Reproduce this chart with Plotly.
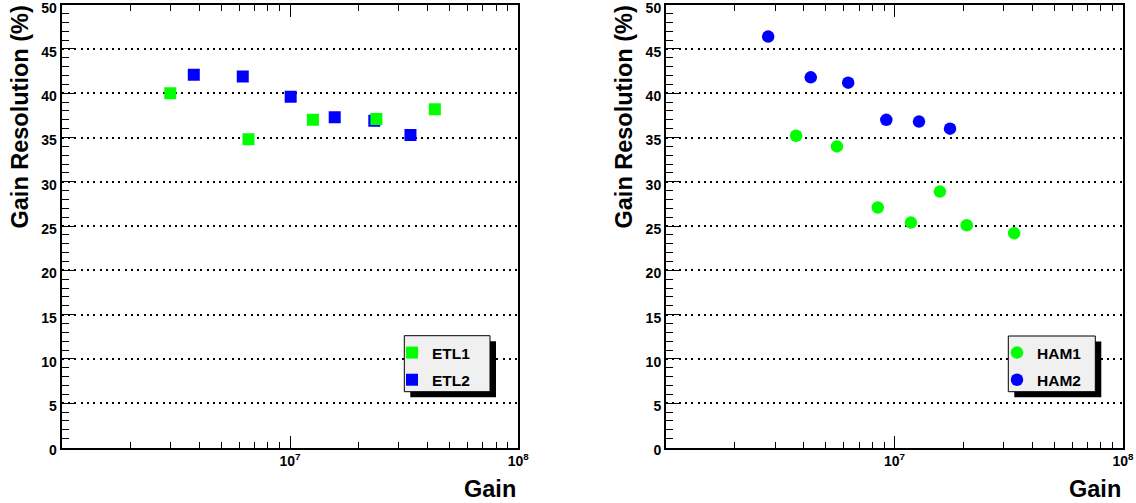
import plotly.graph_objects as go

# ---- data ----
etl1_gain = [2.99e6, 6.58e6, 1.26e7, 2.39e7, 4.31e7]
etl1_res = [40.0, 34.8, 37.0, 37.1, 38.2]
etl2_gain = [3.79e6, 6.21e6, 1.007e7, 1.57e7, 2.34e7, 3.37e7]
etl2_res = [42.1, 41.9, 39.6, 37.3, 36.9, 35.3]
ham1_gain = [3.71e6, 5.60e6, 8.45e6, 1.18e7, 1.58e7, 2.07e7, 3.34e7]
ham1_res = [35.2, 34.0, 27.1, 25.4, 28.9, 25.1, 24.2]
ham2_gain = [2.80e6, 4.30e6, 6.27e6, 9.21e6, 1.28e7, 1.75e7]
ham2_res = [46.4, 41.8, 41.2, 37.0, 36.8, 36.0]

x_tickvals = [1e6, 1e7, 1e8]
x_ticktext = ["", "10<sup>7</sup>", "10<sup>8</sup>"]
x_minor = [k * 10 ** e for e in (6, 7) for k in range(2, 10)]
y_tickvals = list(range(0, 51, 5))

W, H = 1136, 503
GREEN = "#00ff00"
BLUE = "#0000ff"
FONT = "Liberation Sans"


def px(x):
    return x / W


def py(y):
    return 1 - y / H


fig = go.Figure()

fig.add_trace(go.Scatter(x=etl2_gain, y=etl2_res, mode="markers", name="ETL2",
                         marker=dict(symbol="square", size=12, color=BLUE, line=dict(width=0)),
                         xaxis="x", yaxis="y", legend="legend", legendrank=2, legendgroup="b"))
fig.add_trace(go.Scatter(x=etl1_gain, y=etl1_res, mode="markers", name="ETL1",
                         marker=dict(symbol="square", size=12, color=GREEN, line=dict(width=0)),
                         xaxis="x", yaxis="y", legend="legend", legendrank=1, legendgroup="a"))
fig.add_trace(go.Scatter(x=ham1_gain, y=ham1_res, mode="markers", name="HAM1",
                         marker=dict(symbol="circle", size=12.5, color=GREEN, line=dict(width=0)),
                         xaxis="x2", yaxis="y2", legend="legend2", legendrank=1, legendgroup="c"))
fig.add_trace(go.Scatter(x=ham2_gain, y=ham2_res, mode="markers", name="HAM2",
                         marker=dict(symbol="circle", size=12.5, color=BLUE, line=dict(width=0)),
                         xaxis="x2", yaxis="y2", legend="legend2", legendrank=2, legendgroup="d"))

ydom = [py(447.5), py(4.7)]
xdom1 = [px(61.7), px(518.3)]
xdom2 = [px(666), px(1123)]

xaxis_common = dict(
    type="log", range=[6, 8], tickmode="array", tickvals=x_tickvals, ticktext=x_ticktext,
    ticks="inside", ticklen=12, tickwidth=1.2, tickcolor="black",
    minor=dict(tickvals=x_minor, ticks="inside", ticklen=6, tickwidth=1.2, tickcolor="black", showgrid=False),
    showline=True, linecolor="black", linewidth=2, mirror="allticks",
    showgrid=False, zeroline=False, automargin=False, ticklabeloverflow="allow",
    tickfont=dict(family=FONT, size=14, color="black", weight="bold"),
)
yaxis_common = dict(
    range=[0, 50], tickmode="array", tickvals=y_tickvals,
    ticks="inside", ticklen=14, tickwidth=1.2, tickcolor="black",
    minor=dict(dtick=1, tick0=0, ticks="inside", ticklen=7, tickwidth=1.2, tickcolor="black", showgrid=False),
    showline=True, linecolor="black", linewidth=2, mirror=True,
    showgrid=True, gridcolor="black", gridwidth=1.5, griddash="2px,4.3px",
    zeroline=False, automargin=False, ticklabeloverflow="allow", ticklabelshift=3,
    tickfont=dict(family=FONT, size=14, color="black", weight="bold"),
)

fig.update_layout(
    width=W, height=H,
    margin=dict(l=0, r=0, t=0, b=0),
    paper_bgcolor="white", plot_bgcolor="white",
    xaxis=dict(domain=xdom1, anchor="y", **xaxis_common),
    yaxis=dict(domain=ydom, anchor="x", **yaxis_common),
    xaxis2=dict(domain=xdom2, anchor="y2", **xaxis_common),
    yaxis2=dict(domain=ydom, anchor="x2", **yaxis_common),
    legend=dict(x=px(392), y=py(336), xanchor="left", yanchor="top",
                bgcolor="rgba(0,0,0,0)", borderwidth=0, tracegroupgap=4,
                font=dict(family=FONT, size=15.5, color="black", weight="bold")),
    legend2=dict(x=px(997), y=py(336), xanchor="left", yanchor="top",
                 bgcolor="rgba(0,0,0,0)", borderwidth=0, tracegroupgap=4,
                 font=dict(family=FONT, size=15.5, color="black", weight="bold")),
    showlegend=True,
)

# legend boxes with ROOT-style shadow
for (x0, y0, x1, y1) in [(404.3, 335.7, 490, 391.7), (1008.3, 336, 1095.3, 391.7)]:
    fig.add_shape(type="rect", xref="paper", yref="paper",
                  x0=px(x0 + 6), x1=px(x1 + 6), y0=py(y0 + 5.5), y1=py(y1 + 5.5),
                  fillcolor="black", line=dict(width=0), layer="above")
    fig.add_shape(type="rect", xref="paper", yref="paper",
                  x0=px(x0), x1=px(x1), y0=py(y0), y1=py(y1),
                  fillcolor="#f0f0f0", line=dict(color="black", width=1), layer="above")

title_font = dict(family=FONT, size=23.5, color="black", weight="bold")
for xc in (19, 623):
    fig.add_annotation(text="Gain Resolution (%)", xref="paper", yref="paper",
                       x=px(xc), y=py(4), xanchor="center", yanchor="top",
                       textangle=-90, showarrow=False, font=title_font)
for xr in (518, 1123):
    fig.add_annotation(text="Gain", xref="paper", yref="paper",
                       x=px(xr), y=py(489), xanchor="right", yanchor="middle",
                       showarrow=False, font=title_font)

fig.write_html("out.html")
